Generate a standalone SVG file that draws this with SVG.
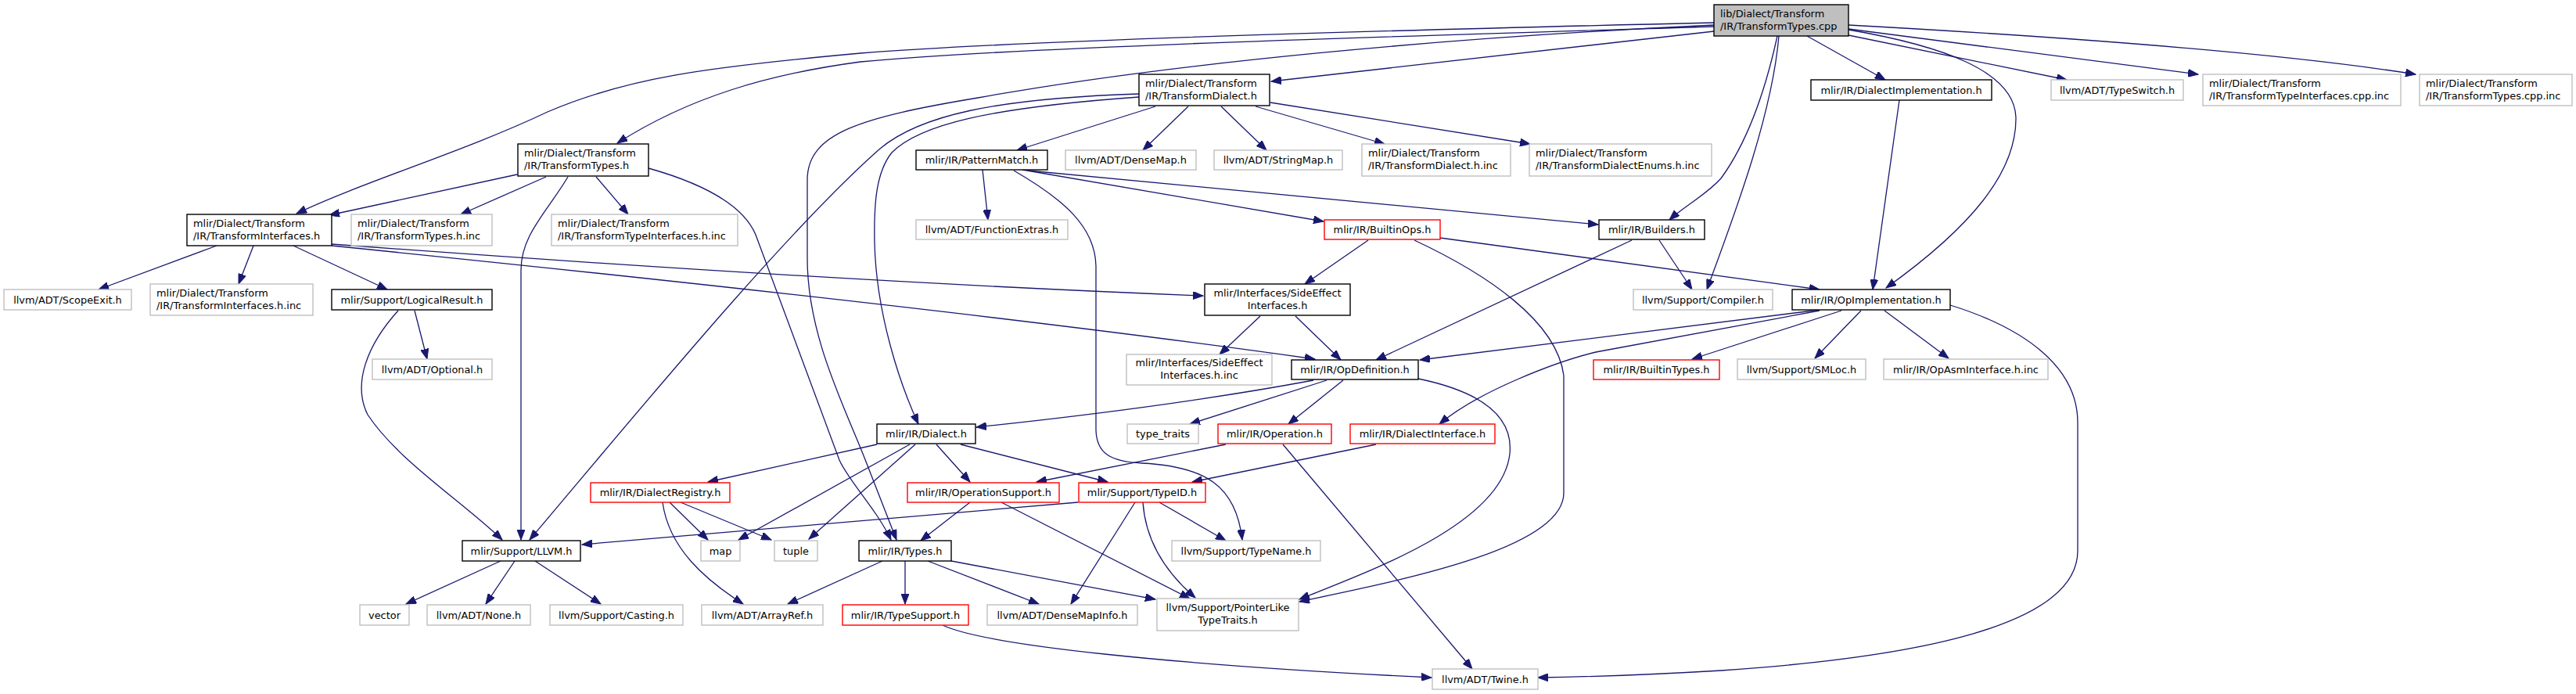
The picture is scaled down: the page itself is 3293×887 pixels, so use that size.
<svg xmlns="http://www.w3.org/2000/svg" width="3293" height="887" viewBox="0 0 3293 887">
<style>
rect{fill:#fff;stroke:#000;stroke-width:1.4}
.g rect{stroke:#bfbfbf}
.r rect{stroke:#ff0000}
.root rect{fill:#bfbfbf}
text{font-family:"DejaVu Sans","Liberation Sans",sans-serif;font-size:12.9px;fill:#000}
.c text{text-anchor:middle}
#edges path{fill:none;stroke:#191970;stroke-width:1.3;marker-end:url(#a)}
</style>
<defs>
<marker id="a" markerWidth="14" markerHeight="10" refX="13" refY="5" orient="auto" markerUnits="userSpaceOnUse"><path d="M0,0 L13,5 L0,10 z" fill="#191970" stroke="#191970" stroke-width="1"/></marker>
</defs>
<rect x="0" y="0" width="3293" height="887" style="fill:#fff;stroke:none"/>
<g id="edges">
<path d="M2191,29 C1800,38 1300,52 1100,68 C900,86 800,100 700,143 C590,195 470,230 379,273"/>
<path d="M2191,34 C1800,46 1300,60 1100,79 C980,95 880,125 789,183"/>
<path d="M2191,40 L1625,104"/>
<path d="M2191,32 C1850,48 1500,80 1250,125 C1100,150 1032,170 1032,230 L1032,330 C1032,430 1080,520 1107,590 L1146,690"/>
<path d="M2310,46 L2410,102"/>
<path d="M2363,45 L2642,102"/>
<path d="M2363,37 L2810,95"/>
<path d="M2363,32 C2600,45 2900,65 3088,95"/>
<path d="M2272,46 C2258,110 2235,180 2200,228 C2180,250 2155,262 2134,281"/>
<path d="M2274,46 C2265,150 2215,280 2182,370"/>
<path d="M2363,38 C2480,58 2575,90 2577,150 C2578,220 2520,290 2411,368"/>
<path d="M661,223 L421,275"/>
<path d="M698,226 L589,274"/>
<path d="M726,226 C700,270 666,300 666,345 L666,690"/>
<path d="M762,226 L803,274"/>
<path d="M829,215 C900,235 950,262 966,300 L1073,588 C1085,615 1120,650 1139,690"/>
<path d="M1477,136 L1300,192"/>
<path d="M1519,136 L1461,192"/>
<path d="M1561,136 L1619,192"/>
<path d="M1605,136 L1770,184"/>
<path d="M1624,131 L1956,184"/>
<path d="M1456,124 C1260,138 1175,160 1140,195 C1120,220 1117,260 1118,310 C1120,400 1150,490 1174,542"/>
<path d="M1456,120 C1270,126 1175,148 1125,190 C1000,300 800,545 677,690"/>
<path d="M1256,217 L1263,281"/>
<path d="M1307,217 L1692,283"/>
<path d="M1314,218 L2043,287"/>
<path d="M1296,218 C1360,255 1400,290 1401,340 L1401,550 C1402,580 1420,590 1460,592 C1540,596 1580,620 1588,690"/>
<path d="M1749,307 L1668,363"/>
<path d="M1841,304 L2326,370"/>
<path d="M1808,307 C1900,350 1990,410 1999,480 L1999,630 C1999,700 1800,740 1661,769"/>
<path d="M2086,307 L1759,460"/>
<path d="M2121,307 L2163,370"/>
<path d="M1611,404 L1559,453"/>
<path d="M1656,404 L1714,460"/>
<path d="M277,314 L126,370"/>
<path d="M324,314 L305,363"/>
<path d="M375,314 L495,370"/>
<path d="M424,312 C800,340 1200,365 1538,378"/>
<path d="M424,314 C800,352 1300,405 1681,459"/>
<path d="M530,397 L546,459"/>
<path d="M509,397 C470,440 450,490 470,530 C510,590 590,640 642,690"/>
<path d="M2428,128 L2394,370"/>
<path d="M2326,396 L1815,460"/>
<path d="M2326,397 L2040,450 C1990,462 1890,500 1840,542"/>
<path d="M2354,397 L2163,459"/>
<path d="M2379,397 L2320,458"/>
<path d="M2409,397 L2491,458"/>
<path d="M2493,390 C2590,420 2656,470 2656,540 L2656,704 C2656,800 2450,840 2200,857 C2100,863 2030,865 1966,866"/>
<path d="M1121,568 L905,616"/>
<path d="M1163,568 L944,690"/>
<path d="M1170,568 L1034,689"/>
<path d="M1197,568 L1240,616"/>
<path d="M1228,568 L1416,616"/>
<path d="M1679,486 C1550,510 1400,530 1248,546"/>
<path d="M1696,486 L1521,542"/>
<path d="M1717,486 L1647,542"/>
<path d="M1813,484 C1890,500 1935,530 1930,580 C1920,670 1750,730 1661,766"/>
<path d="M1567,568 L1325,616"/>
<path d="M1640,568 L1882,855"/>
<path d="M1759,568 L1524,616"/>
<path d="M856,642 L905,690"/>
<path d="M870,642 L986,690"/>
<path d="M847,642 C855,700 900,740 950,772"/>
<path d="M640,717 L519,772"/>
<path d="M658,717 L621,772"/>
<path d="M684,717 L768,772"/>
<path d="M1128,717 L1007,772"/>
<path d="M1157,717 L1157,772"/>
<path d="M1186,717 L1328,772"/>
<path d="M1216,717 L1477,766"/>
<path d="M1240,642 L1177,691"/>
<path d="M1280,642 L1521,765"/>
<path d="M1378,642 L744,696"/>
<path d="M1451,642 L1369,772"/>
<path d="M1461,642 C1465,700 1500,740 1528,764"/>
<path d="M1482,642 L1567,691"/>
<path d="M1205,799 C1260,825 1500,850 1830,866"/>
</g>
<g id="n_root" class="root"><rect x="2191" y="6" width="172" height="40"/><text x="2199" y="21.5">lib/Dialect/Transform</text><text x="2199" y="37.5">/IR/TransformTypes.cpp</text></g>
<g id="n_transformtypes_h"><rect x="662" y="184" width="167" height="41"/><text x="670" y="199.5">mlir/Dialect/Transform</text><text x="670" y="215.5">/IR/TransformTypes.h</text></g>
<g id="n_transforminterfaces_h"><rect x="239" y="274" width="185" height="40"/><text x="247" y="289.5">mlir/Dialect/Transform</text><text x="247" y="305.5">/IR/TransformInterfaces.h</text></g>
<g id="n_transformtypes_h_inc" class="g"><rect x="449" y="274" width="180" height="40"/><text x="457" y="289.5">mlir/Dialect/Transform</text><text x="457" y="305.5">/IR/TransformTypes.h.inc</text></g>
<g id="n_transformtypeinterfaces_h_inc" class="g"><rect x="705" y="274" width="238" height="40"/><text x="713" y="289.5">mlir/Dialect/Transform</text><text x="713" y="305.5">/IR/TransformTypeInterfaces.h.inc</text></g>
<g id="n_transformdialect_h"><rect x="1456" y="95" width="167" height="40"/><text x="1464" y="110.5">mlir/Dialect/Transform</text><text x="1464" y="126.5">/IR/TransformDialect.h</text></g>
<g id="n_patternmatch" class="c"><rect x="1171" y="192" width="168" height="25"/><text x="1255" y="209">mlir/IR/PatternMatch.h</text></g>
<g id="n_densemap" class="c g"><rect x="1362" y="192" width="167" height="25"/><text x="1445.5" y="209">llvm/ADT/DenseMap.h</text></g>
<g id="n_stringmap" class="c g"><rect x="1552" y="192" width="164" height="25"/><text x="1634" y="209">llvm/ADT/StringMap.h</text></g>
<g id="n_transformdialect_h_inc" class="g"><rect x="1741" y="184" width="190" height="41"/><text x="1749" y="199.5">mlir/Dialect/Transform</text><text x="1749" y="215.5">/IR/TransformDialect.h.inc</text></g>
<g id="n_transformdialectenums_h_inc" class="g"><rect x="1955" y="184" width="233" height="41"/><text x="1963" y="199.5">mlir/Dialect/Transform</text><text x="1963" y="215.5">/IR/TransformDialectEnums.h.inc</text></g>
<g id="n_functionextras" class="c g"><rect x="1171" y="281" width="194" height="25"/><text x="1268" y="298">llvm/ADT/FunctionExtras.h</text></g>
<g id="n_builtinops" class="c r"><rect x="1693" y="281" width="148" height="25"/><text x="1767" y="298">mlir/IR/BuiltinOps.h</text></g>
<g id="n_builders" class="c"><rect x="2044" y="281" width="135" height="25"/><text x="2111.5" y="298">mlir/IR/Builders.h</text></g>
<g id="n_dialectimplementation" class="c"><rect x="2315" y="102" width="231" height="26"/><text x="2430.5" y="119.5">mlir/IR/DialectImplementation.h</text></g>
<g id="n_typeswitch" class="c g"><rect x="2622" y="102" width="169" height="26"/><text x="2706.5" y="119.5">llvm/ADT/TypeSwitch.h</text></g>
<g id="n_transformtypeinterfaces_cpp_inc" class="g"><rect x="2816" y="95" width="253" height="40"/><text x="2824" y="110.5">mlir/Dialect/Transform</text><text x="2824" y="126.5">/IR/TransformTypeInterfaces.cpp.inc</text></g>
<g id="n_transformtypes_cpp_inc" class="g"><rect x="3093" y="95" width="195" height="40"/><text x="3101" y="110.5">mlir/Dialect/Transform</text><text x="3101" y="126.5">/IR/TransformTypes.cpp.inc</text></g>
<g id="n_scopeexit" class="c g"><rect x="5" y="370" width="163" height="26"/><text x="86.5" y="387.5">llvm/ADT/ScopeExit.h</text></g>
<g id="n_transforminterfaces_h_inc" class="g"><rect x="192" y="363" width="208" height="40"/><text x="200" y="378.5">mlir/Dialect/Transform</text><text x="200" y="394.5">/IR/TransformInterfaces.h.inc</text></g>
<g id="n_logicalresult" class="c"><rect x="424" y="370" width="205" height="26"/><text x="526.5" y="387.5">mlir/Support/LogicalResult.h</text></g>
<g id="n_optional" class="c g"><rect x="476" y="459" width="153" height="26"/><text x="552.5" y="476.5">llvm/ADT/Optional.h</text></g>
<g id="n_sideeffectinterfaces" class="c"><rect x="1540" y="363" width="186" height="40"/><text x="1633" y="378.5">mlir/Interfaces/SideEffect</text><text x="1633" y="394.5">Interfaces.h</text></g>
<g id="n_sideeffectinterfaces_inc" class="c g"><rect x="1440" y="453" width="186" height="39"/><text x="1533" y="468">mlir/Interfaces/SideEffect</text><text x="1533" y="484">Interfaces.h.inc</text></g>
<g id="n_opdefinition" class="c"><rect x="1651" y="460" width="162" height="25"/><text x="1732" y="477">mlir/IR/OpDefinition.h</text></g>
<g id="n_dialect" class="c"><rect x="1121" y="542" width="126" height="25"/><text x="1184" y="559">mlir/IR/Dialect.h</text></g>
<g id="n_type_traits" class="c g"><rect x="1441" y="542" width="91" height="25"/><text x="1486.5" y="559">type_traits</text></g>
<g id="n_operation" class="c r"><rect x="1557" y="542" width="145" height="25"/><text x="1629.5" y="559">mlir/IR/Operation.h</text></g>
<g id="n_dialectinterface" class="c r"><rect x="1726" y="542" width="185" height="25"/><text x="1818.5" y="559">mlir/IR/DialectInterface.h</text></g>
<g id="n_compiler" class="c g"><rect x="2088" y="370" width="178" height="26"/><text x="2177" y="387.5">llvm/Support/Compiler.h</text></g>
<g id="n_builtintypes" class="c r"><rect x="2037" y="460" width="161" height="25"/><text x="2117.5" y="477">mlir/IR/BuiltinTypes.h</text></g>
<g id="n_opimplementation" class="c"><rect x="2291" y="370" width="202" height="26"/><text x="2392" y="387.5">mlir/IR/OpImplementation.h</text></g>
<g id="n_smloc" class="c g"><rect x="2221" y="459" width="164" height="26"/><text x="2303" y="476.5">llvm/Support/SMLoc.h</text></g>
<g id="n_opasminterface" class="c g"><rect x="2408" y="459" width="210" height="26"/><text x="2513" y="476.5">mlir/IR/OpAsmInterface.h.inc</text></g>
<g id="n_dialectregistry" class="c r"><rect x="755" y="617" width="178" height="25"/><text x="844" y="634">mlir/IR/DialectRegistry.h</text></g>
<g id="n_llvm" class="c"><rect x="591" y="691" width="151" height="26"/><text x="666.5" y="708.5">mlir/Support/LLVM.h</text></g>
<g id="n_map" class="c g"><rect x="896" y="691" width="50" height="26"/><text x="921" y="708.5">map</text></g>
<g id="n_tuple" class="c g"><rect x="990" y="691" width="55" height="26"/><text x="1017.5" y="708.5">tuple</text></g>
<g id="n_vector" class="c g"><rect x="460" y="773" width="63" height="26"/><text x="491.5" y="790.5">vector</text></g>
<g id="n_none" class="c g"><rect x="546" y="773" width="132" height="26"/><text x="612" y="790.5">llvm/ADT/None.h</text></g>
<g id="n_casting" class="c g"><rect x="703" y="773" width="170" height="26"/><text x="788" y="790.5">llvm/Support/Casting.h</text></g>
<g id="n_arrayref" class="c g"><rect x="897" y="773" width="155" height="26"/><text x="974.5" y="790.5">llvm/ADT/ArrayRef.h</text></g>
<g id="n_typesupport" class="c r"><rect x="1077" y="773" width="161" height="26"/><text x="1157.5" y="790.5">mlir/IR/TypeSupport.h</text></g>
<g id="n_operationsupport" class="c r"><rect x="1160" y="617" width="194" height="25"/><text x="1257" y="634">mlir/IR/OperationSupport.h</text></g>
<g id="n_typeid" class="c r"><rect x="1379" y="617" width="162" height="25"/><text x="1460" y="634">mlir/Support/TypeID.h</text></g>
<g id="n_types" class="c"><rect x="1098" y="691" width="118" height="26"/><text x="1157" y="708.5">mlir/IR/Types.h</text></g>
<g id="n_typename" class="c g"><rect x="1498" y="691" width="190" height="26"/><text x="1593" y="708.5">llvm/Support/TypeName.h</text></g>
<g id="n_densemapinfo" class="c g"><rect x="1262" y="773" width="192" height="26"/><text x="1358" y="790.5">llvm/ADT/DenseMapInfo.h</text></g>
<g id="n_pointerliketypetraits" class="c g"><rect x="1479" y="765" width="181" height="41"/><text x="1569.5" y="780.5">llvm/Support/PointerLike</text><text x="1569.5" y="796.5">TypeTraits.h</text></g>
<g id="n_twine" class="c g"><rect x="1831" y="855" width="135" height="26"/><text x="1898.5" y="872.5">llvm/ADT/Twine.h</text></g>
</svg>
